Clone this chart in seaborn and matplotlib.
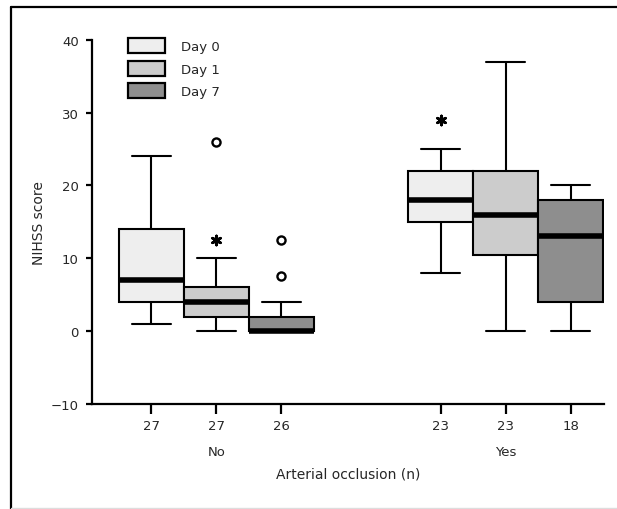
import numpy as np
import pandas as pd
import matplotlib
matplotlib.use("Agg")
import matplotlib.pyplot as plt
from matplotlib.patches import Patch
from matplotlib.lines import Line2D
import seaborn as sns

# ---------------- data ----------------
groups = ["No", "Yes"]
days = ["Day 0", "Day 1", "Day 7"]
# box order: No/Day0, No/Day1, No/Day7, Yes/Day0, Yes/Day1, Yes/Day7
box_group = ["No", "No", "No", "Yes", "Yes", "Yes"]
box_day = ["Day 0", "Day 1", "Day 7", "Day 0", "Day 1", "Day 7"]
n_counts = [27, 27, 26, 23, 23, 18]
whisker_low = [1, 0, 0, 8, 0, 0]
q1 = [4, 2, 0, 15, 10.5, 4]
median = [7, 4, 0, 18, 16, 13]
q3 = [14, 6, 2, 22, 22, 18]
whisker_high = [24, 10, 4, 25, 37, 20]
# outliers (open circles) and extreme values (asterisks): box index, value
outlier_box = [1, 2, 2]
outlier_val = [26, 12.5, 7.5]
extreme_box = [1, 3]
extreme_val = [12.5, 29]
colors = ["#eeeeee", "#cccccc", "#8e8e8e"]

# long-form table of the five-number summaries for seaborn
rows = []
for i in range(len(box_group)):
    for v in (whisker_low[i], q1[i], median[i], q3[i], whisker_high[i]):
        rows.append({"occlusion": box_group[i], "day": box_day[i], "score": v})
df = pd.DataFrame(rows)

# ---------------- style ----------------
sns.set_style("ticks")
plt.rcParams["font.family"] = ["DejaVu Sans"]
plt.rcParams["font.size"] = 9.5
text_color = "#262626"

fig = plt.figure(figsize=(6.17, 5.10), dpi=100)
ax = fig.add_axes([0.149, 0.206, 0.830, 0.714])

sns.boxplot(
    data=df, x="occlusion", y="score", hue="day",
    order=groups, hue_order=days, palette=colors, saturation=1,
    width=0.675, gap=0, dodge=True, linecolor="black", linewidth=1.5,
    showfliers=False, whis=1.5,
    medianprops=dict(linewidth=4.0, color="black"),
    capwidths=0.135, legend=False, ax=ax,
)

# box centres from the drawn boxes
centers = []
for p in ax.patches:
    verts = p.get_path().vertices
    centers.append((verts[:, 0].min() + verts[:, 0].max()) / 2)
centers = sorted(centers)

# outliers and extremes
sns.scatterplot(
    x=[centers[b] for b in outlier_box], y=outlier_val, marker="o", s=34,
    facecolor="white", edgecolor="black", linewidth=1.7, ax=ax, legend=False, zorder=4,
)
sns.scatterplot(
    x=[centers[b] for b in extreme_box], y=extreme_val, marker=(6, 2, 0), s=42,
    color="black", linewidth=2.0, ax=ax, legend=False, zorder=4,
)

# axes
ax.set_xlim(-0.43, 1.34)
ax.set_ylim(-10, 40)
ax.set_yticks([-10, 0, 10, 20, 30, 40])
ax.set_yticklabels(["\u221210", "0", "10", "20", "30", "40"])
ax.set_xticks(centers)
ax.set_xticklabels([str(n) for n in n_counts])
ax.set_xlabel("")
ax.set_ylabel("")
sns.despine(ax=ax)
for s in ("left", "bottom"):
    ax.spines[s].set_linewidth(1.6)
    ax.spines[s].set_color("black")
ax.tick_params(axis="x", direction="out", length=7, width=1.6, pad=4,
               labelsize=9.5, labelcolor=text_color, color="black")
ax.tick_params(axis="y", direction="out", length=4.5, width=1.6, pad=5,
               labelsize=9.5, labelcolor=text_color, color="black")

# category labels and axis titles
for gi, g in enumerate(groups):
    ax.text(gi, -0.13, g, transform=ax.get_xaxis_transform(), ha="center",
            va="center", fontsize=9.5, color=text_color)
ax.text(0.5, -0.19, "Arterial occlusion (n)", transform=ax.transAxes,
        ha="center", va="center", fontsize=10, color=text_color)
ax.text(-0.103, 0.5, "NIHSS score", transform=ax.transAxes, rotation=90,
        ha="center", va="center", fontsize=10, color=text_color)

# legend
handles = [Patch(facecolor=c, edgecolor="black", linewidth=1.6) for c in colors]
ax.legend(handles, days, loc="upper left", bbox_to_anchor=(0.07, 1.005),
          frameon=False, borderpad=0, borderaxespad=0, handlelength=2.8,
          handleheight=1.35, labelspacing=0.6, handletextpad=1.2,
          fontsize=9.5, labelcolor=text_color)

# outer frame (top and left edges)
fig.add_artist(Line2D([11 / 617, 1], [1 - 8 / 510] * 2, transform=fig.transFigure,
                      color="black", lw=1.6))
fig.add_artist(Line2D([11 / 617] * 2, [0, 1 - 8 / 510], transform=fig.transFigure,
                      color="black", lw=1.6))
fig.add_artist(Line2D([11 / 617, 1], [1 / 510] * 2, transform=fig.transFigure,
                      color="#dddddd", lw=1.0))

fig.savefig("out.png", dpi=100)
